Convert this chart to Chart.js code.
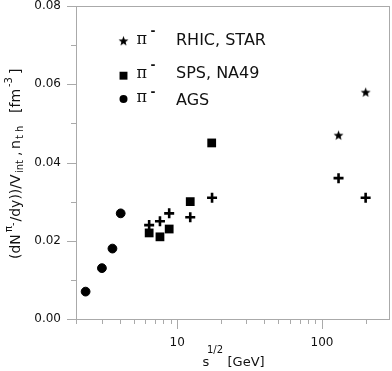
<!DOCTYPE html>
<html>
<head>
<meta charset="utf-8">
<script src="https://cdn.jsdelivr.net/npm/chart.js@4"></script>
<style>
html, body { margin: 0; padding: 0; background: #fff; }
#wrap { width: 392px; height: 371px; }
</style>
</head>
<body>
<div id="wrap"><canvas id="chart"></canvas></div>
<script>
// values
const agsX = [2.33, 3.02, 3.57, 4.07]
const agsY = [0.007, 0.013, 0.018, 0.027]
const spsX = [6.4, 7.6, 8.8, 12.3, 17.3]
const spsY = [0.022, 0.021, 0.023, 0.030, 0.045]
const rhicX = [130, 200]
const rhicY = [0.047, 0.058]
const thermX = [6.4, 7.6, 8.8, 12.3, 17.4, 130, 200]
const thermY = [0.024, 0.025, 0.027, 0.026, 0.031, 0.036, 0.031]
const yTicks = [0, 0.02, 0.04, 0.06, 0.08]
const xLabels = [10, 100]
const legendNames = ['RHIC, STAR', 'SPS, NA49', 'AGS']

const FONT = '"DejaVu Sans", sans-serif'

function toPoints(xs, ys) {
    return xs.map((x, i) => ({ x: x, y: ys[i] }))
}

function makeStar(r) {
    const c = document.createElement('canvas')
    const s = Math.ceil(r * 2 + 2)
    c.width = s
    c.height = s
    const g = c.getContext('2d')
    g.fillStyle = '#000'
    g.beginPath()
    for (let i = 0; i < 10; i++) {
        const rad = i % 2 ? r * 0.42 : r
        const a = -Math.PI / 2 + i * Math.PI / 5
        g.lineTo(s / 2 + rad * Math.cos(a), s / 2 + 0.5 + rad * Math.sin(a))
    }
    g.closePath()
    g.fill()
    return c
}
const star = makeStar(5.2)

// pieces of text, each placed at an offset along the line with its own size and shift
function drawPieces(ctx, parts) {
    parts.forEach(p => {
        ctx.font = p.size + 'px ' + (p.font || FONT)
        ctx.fillText(p.t, p.at, p.dy || 0)
    })
}

function noPad(scale) {
    scale.paddingTop = 0
    scale.paddingBottom = 0
    scale.paddingLeft = 0
    scale.paddingRight = 0
}

const decorations = {
    id: 'decorations',
    afterDraw(chart) {
        const { ctx, chartArea: a, scales: { x, y } } = chart
        ctx.save()
        // frame
        ctx.strokeStyle = '#aaa'
        ctx.lineWidth = 1
        ctx.strokeRect(Math.round(a.left) + 0.5, Math.round(a.top) + 0.5,
            Math.round(a.width), Math.round(a.height))

        // y ticks, major every 0.02 and minor in between
        for (let i = 0; i <= 8; i++) {
            const py = Math.round(y.getPixelForValue(i * 0.01)) + 0.5
            const len = i % 2 ? 5 : 9
            ctx.beginPath()
            ctx.moveTo(a.left, py)
            ctx.lineTo(a.left - len, py)
            ctx.stroke()
        }
        // x ticks on the log scale
        ;[1, 10, 100].forEach(d => {
            for (let m = 1; m <= 9; m++) {
                const v = m * d
                if (v < x.min || v > x.max) continue
                const px = Math.round(x.getPixelForValue(v)) + 0.5
                const len = xLabels.includes(v) ? 10 : 5
                ctx.beginPath()
                ctx.moveTo(px, a.bottom)
                ctx.lineTo(px, a.bottom + len)
                ctx.stroke()
            }
        })

        ctx.fillStyle = '#111'
        ctx.textBaseline = 'alphabetic'
        ctx.textAlign = 'left'

        // x title
        ctx.save()
        ctx.translate(202.5, 366)
        drawPieces(ctx, [
            { t: 's', size: 13, at: 0 },
            { t: '1/2', size: 10, dy: -13, at: 4.5 },
            { t: '[GeV]', size: 13, at: 25 }
        ])
        ctx.restore()

        // y title, rotated
        ctx.save()
        ctx.translate(19.5, 259)
        ctx.rotate(-Math.PI / 2)
        drawPieces(ctx, [
            { t: '(dN', size: 14, at: 0 },
            { t: 'π', size: 10, dy: -8, at: 27 },
            { t: '-', size: 10, dy: -4, at: 33 },
            { t: '/dy))/V', size: 14, at: 37.5 },
            { t: 'int', size: 10, dy: 3, at: 86 },
            { t: ',', size: 14, at: 103 },
            { t: 'n', size: 14, at: 110 },
            { t: 't h', size: 10, dy: 3, at: 120 },
            { t: '[fm', size: 14, at: 146 },
            { t: '-3', size: 10, dy: -8, at: 172 },
            { t: ']', size: 14, at: 185 }
        ])
        ctx.restore()

        // legend
        const rows = [
            { my: 40.7, ty: 45, py: 43.5, sy: 30.7 },
            { my: 75.7, ty: 78, py: 78, sy: 65 },
            { my: 99, ty: 105, py: 102.3, sy: 91.7 }
        ]
        const markers = [
            { pointStyle: star, radius: 5 },
            { pointStyle: 'rect', radius: 5.6 },
            { pointStyle: 'circle', radius: 4 }
        ]
        rows.forEach((r, i) => {
            ctx.fillStyle = '#000'
            ctx.strokeStyle = '#000'
            ctx.lineWidth = 1
            Chart.helpers.drawPoint(ctx, markers[i], 123.5, r.my)
            ctx.fillStyle = '#111'
            ctx.font = '16px "DejaVu Serif", serif'
            ctx.fillText('π', 136.5, r.py)
            ctx.font = 'bold 12px ' + FONT
            ctx.fillText('-', 150.5, r.sy + 4)
            ctx.font = '16px ' + FONT
            ctx.fillText(legendNames[i], 176, r.ty)
        })
        ctx.restore()
    }
}

const ctx = document.getElementById('chart')
const myChart = new Chart(ctx, {
    type: 'scatter',
    data: {
        datasets: [{
            label: 'AGS',
            data: toPoints(agsX, agsY),
            pointStyle: 'circle',
            pointRadius: 4.4,
            borderWidth: 1,
            backgroundColor: '#000',
            borderColor: '#000'
        }, {
            label: 'SPS, NA49',
            data: toPoints(spsX, spsY),
            pointStyle: 'rect',
            pointRadius: 6.2,
            borderWidth: 0,
            backgroundColor: '#000',
            borderColor: '#000'
        }, {
            label: 'RHIC, STAR',
            data: toPoints(rhicX, rhicY),
            pointStyle: star,
            pointRadius: 5,
            backgroundColor: '#000',
            borderColor: '#000'
        }, {
            label: 'thermal',
            data: toPoints(thermX, thermY),
            pointStyle: 'cross',
            pointRadius: 5,
            borderWidth: 2.6,
            backgroundColor: '#000',
            borderColor: '#000'
        }]
    },
    options: {
        responsive: true,
        maintainAspectRatio: false,
        animation: false,
        layout: {
            autoPadding: false,
            padding: { top: 6, right: 3, left: 0, bottom: 0 }
        },
        scales: {
            x: {
                type: 'logarithmic',
                min: 2,
                max: 290,
                afterBuildTicks: scale => {
                    scale.ticks = xLabels.map(v => ({ value: v }))
                },
                afterFit: scale => {
                    scale.height = 52
                    noPad(scale)
                },
                grid: { display: true, drawOnChartArea: false, drawTicks: false },
                border: { display: false },
                ticks: {
                    autoSkip: false,
                    maxRotation: 0,
                    padding: 17,
                    color: '#111',
                    font: { family: FONT, size: 12 },
                    callback: v => String(v)
                }
            },
            y: {
                min: 0,
                max: 0.08,
                afterBuildTicks: scale => {
                    scale.ticks = yTicks.map(v => ({ value: v }))
                },
                afterFit: scale => {
                    scale.width = 76
                    noPad(scale)
                },
                grid: { display: true, drawOnChartArea: false, drawTicks: false },
                border: { display: false },
                ticks: {
                    padding: 15,
                    color: '#111',
                    font: { family: FONT, size: 12 },
                    callback: v => v.toFixed(2)
                }
            }
        },
        plugins: {
            legend: { display: false },
            tooltip: { enabled: false }
        }
    },
    plugins: [decorations]
})
</script>
</body>
</html>
